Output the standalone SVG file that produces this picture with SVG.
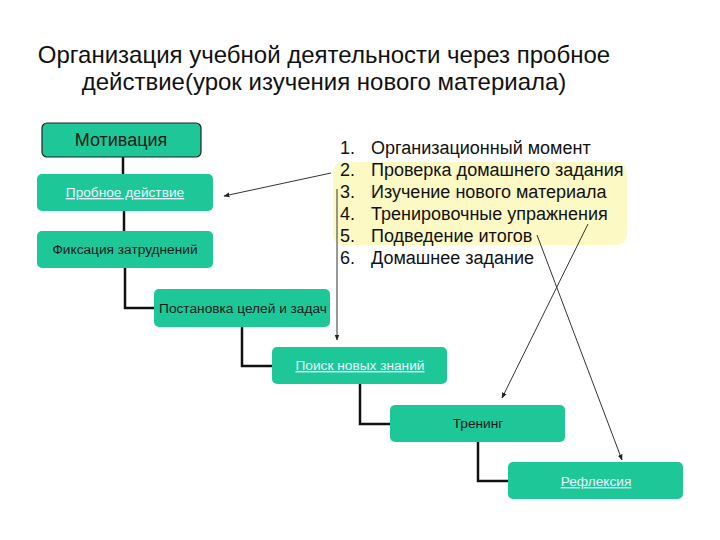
<svg xmlns="http://www.w3.org/2000/svg" width="720" height="540" viewBox="0 0 720 540">
<defs>
<style>
.box{fill:#1ec798;}
.t{font-family:"Liberation Sans",Arial,sans-serif;font-size:13.7px;fill:#1a1a1a;text-anchor:middle;}
.big{font-size:18px;}
.link{font-family:"Liberation Sans",Arial,sans-serif;font-size:13.7px;fill:#e8f4ff;text-anchor:middle;text-decoration:underline;}
.li{font-family:"Liberation Sans",Arial,sans-serif;font-size:18px;fill:#111;}
.ttl{font-family:"Liberation Sans",Arial,sans-serif;font-size:24px;fill:#111;text-anchor:middle;}
.c{fill:none;stroke:#111;stroke-width:2.5;}
.a{fill:none;stroke:#333;stroke-width:1;marker-end:url(#ah);}
</style>
<marker id="ah" viewBox="0 0 10 10" refX="9" refY="5" markerWidth="6" markerHeight="6" orient="auto"><path d="M0,1 L10,5 L0,9 z" fill="#222"/></marker>
</defs>
<rect width="720" height="540" fill="#fff"/>
<text x="324" y="63" class="ttl">Организация учебной деятельности через пробное</text>
<text x="324" y="90" class="ttl">действие(урок изучения нового материала)</text>
<rect x="333" y="162" width="294" height="83" rx="10" fill="#fdf9c4"/>
<g id="connectors">
<path class="c" d="M123 157V174"/>
<path class="c" d="M124 211V231"/>
<path class="c" d="M125 268V308H155"/>
<path class="c" d="M242 327V366H272"/>
<path class="c" d="M360 384V424H390"/>
<path class="c" d="M478 442V481H508"/>
<path class="a" d="M331 173L224 196"/>
<path class="a" d="M337 189V340"/>
<path class="a" d="M588 224L502 398"/>
<path class="a" d="M537 235L622 460"/>
</g>
<g id="n1"><rect class="box" x="42" y="123" width="159" height="34" rx="5" stroke="#222" stroke-width="1.2"/><text x="121" y="146" class="t big">Мотивация</text></g>
<g id="n2"><rect class="box" x="37" y="174" width="176" height="37" rx="5"/><text x="125" y="197" class="link">Пробное действие</text></g>
<g id="n3"><rect class="box" x="37" y="231" width="176" height="37" rx="5"/><text x="125" y="254" class="t">Фиксация затруднений</text></g>
<g id="n4"><rect class="box" x="154" y="289" width="176" height="38" rx="5"/><text x="243" y="313" class="t">Постановка целей и задач</text></g>
<g id="n5"><rect class="box" x="272" y="347" width="175" height="37" rx="5"/><text x="360" y="370" class="link">Поиск новых знаний</text></g>
<g id="n6"><rect class="box" x="390" y="405" width="175" height="37" rx="5"/><text x="478" y="428" class="t">Тренинг</text></g>
<g id="n7"><rect class="box" x="508" y="462" width="175" height="37" rx="5"/><text x="596" y="486" class="link">Рефлексия</text></g>
<g id="list">
<text class="li" x="340" y="154">1.</text><text class="li" x="371" y="154">Организационный момент</text>
<text class="li" x="340" y="176">2.</text><text class="li" x="371" y="176">Проверка домашнего задания</text>
<text class="li" x="340" y="198">3.</text><text class="li" x="371" y="198">Изучение нового материала</text>
<text class="li" x="340" y="220">4.</text><text class="li" x="371" y="220">Тренировочные упражнения</text>
<text class="li" x="340" y="242">5.</text><text class="li" x="371" y="242">Подведение итогов</text>
<text class="li" x="340" y="264">6.</text><text class="li" x="371" y="264">Домашнее задание</text>
</g>
</svg>
